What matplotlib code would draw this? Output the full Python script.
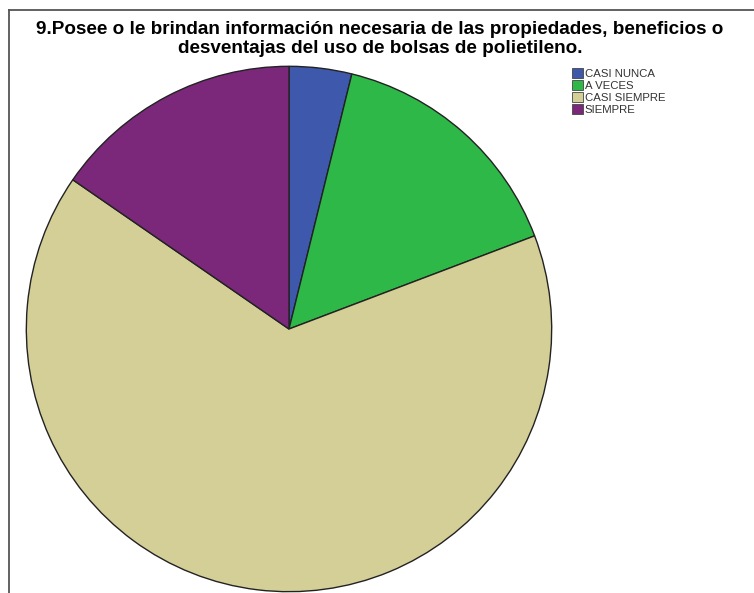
import matplotlib
matplotlib.use("Agg")
import matplotlib.pyplot as plt
from matplotlib.patches import Patch
from matplotlib.lines import Line2D

categories = ["CASI NUNCA", "A VECES", "CASI SIEMPRE", "SIEMPRE"]
counts = [1, 4, 17, 4]
colors = ["#3e58ac", "#2eb848", "#d4ce97", "#7b287b"]
title = ("9.Posee o le brindan información necesaria de las propiedades, beneficios o\n"
         "desventajas del uso de bolsas de polietileno.")

W, H = 754, 593
fig = plt.figure(figsize=(W / 100, H / 100), dpi=100)
fig.patch.set_facecolor("white")

# outer frame (top and left edges)
fig.add_artist(Line2D([9 / W, 9 / W], [0, 1 - 10 / H], transform=fig.transFigure,
                      color="#555555", lw=1.3))
fig.add_artist(Line2D([9 / W, 1], [1 - 10 / H, 1 - 10 / H], transform=fig.transFigure,
                      color="#555555", lw=1.3))

cx, cy, r = 289, 329, 264
ax = fig.add_axes([(cx - r) / W, (H - cy - r) / H, 2 * r / W, 2 * r / H])
ax.pie(counts, colors=colors, startangle=90, counterclock=False, radius=1.0,
       wedgeprops=dict(edgecolor="#222222", linewidth=1.0))
ax.set_xlim(-1.005, 1.005)
ax.set_ylim(-1.005, 1.005)
ax.set_aspect("auto")
ax.axis("off")

fig.text(0.504, 1 - 39 / H, title, ha="center", va="center", fontsize=13.6,
         fontweight="bold", family="Liberation Sans", linespacing=1.12)

handles = [Patch(facecolor=c, edgecolor="#444444", linewidth=0.6) for c in colors]
leg = fig.legend(handles, categories, loc="upper left",
                 bbox_to_anchor=(564 / W, 1 - 60 / H), frameon=False,
                 prop=dict(family="Liberation Sans", size=8.2),
                 handlelength=0.95, handleheight=0.95, handletextpad=0.15,
                 labelspacing=0.1, borderpad=0.2)
for t in leg.get_texts():
    t.set_color("#333333")

fig.savefig("out.png", dpi=100)
